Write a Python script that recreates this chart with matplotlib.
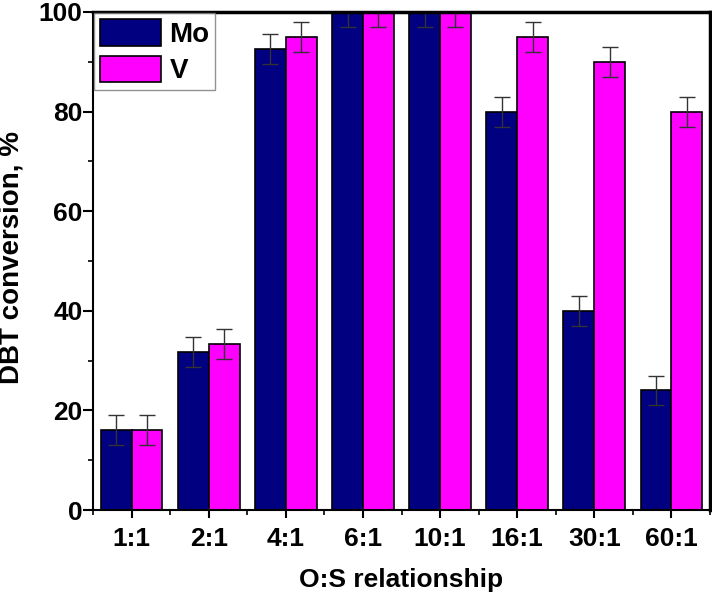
import numpy as np
import matplotlib.pyplot as plt

plt.rcParams['font.family'] = ['Liberation Sans', 'DejaVu Sans']
plt.rcParams['font.weight'] = 'bold'

ratios = ['1:1', '2:1', '4:1', '6:1', '10:1', '16:1', '30:1', '60:1']
mo_values = [16, 31.8, 92.5, 100, 100, 80, 40, 24]
v_values = [16, 33.3, 95, 100, 100, 95, 90, 80]
mo_err = [3, 3, 3, 3, 3, 3, 3, 3]
v_err = [3, 3, 3, 3, 3, 3, 3, 3]

fig = plt.figure(figsize=(7.12, 5.98), dpi=100)
ax = fig.add_axes([93 / 712, 1 - 510 / 598, 617 / 712, 498 / 598])

x = np.arange(len(ratios))
w = 0.4
err_kw = dict(ecolor='#333333', elinewidth=1, capsize=5.5, capthick=1)
ax.bar(x - w / 2, mo_values, w, yerr=mo_err, color='#000080', edgecolor='black',
       linewidth=1.2, label='Mo', error_kw=err_kw)
ax.bar(x + w / 2, v_values, w, yerr=v_err, color='#ff00ff', edgecolor='black',
       linewidth=1.2, label='V', error_kw=err_kw)

ax.set_xlim(-0.5, 7.5)
ax.set_ylim(0, 100)
ax.set_xticks(x)
ax.set_xticklabels(ratios)
ax.set_xticks(np.arange(-0.5, 8, 1), minor=True)
ax.set_yticks(np.arange(0, 101, 20))
ax.set_yticks(np.arange(10, 100, 20), minor=True)
ax.tick_params(axis='both', which='major', direction='out', length=7, width=1.5,
               labelsize=19)
ax.tick_params(axis='both', which='minor', direction='out', length=3.5, width=1.2)
ax.tick_params(axis='y', which='major', pad=0.5)
ax.tick_params(axis='x', which='major', length=5.5, pad=7)

for side in ['left', 'bottom']:
    ax.spines[side].set_linewidth(1.5)
for side in ['top', 'right']:
    ax.spines[side].set_linewidth(2.5)

ax.set_xlabel('O:S relationship', fontsize=19, fontweight='bold', labelpad=12)
fig.text(12 / 712, 1 - 258 / 598, 'DBT conversion, %', rotation=90, fontsize=20,
         fontweight='bold', ha='center', va='center')

leg = ax.legend(loc='upper left', fontsize=20, handlelength=2.2, handleheight=1.1,
                borderaxespad=0.05, fancybox=False, shadow=False, edgecolor='#777777',
                handletextpad=0.3, borderpad=0.2, labelspacing=0.28)
leg.get_frame().set_linewidth(1)

fig.savefig('out.png', dpi=100)
